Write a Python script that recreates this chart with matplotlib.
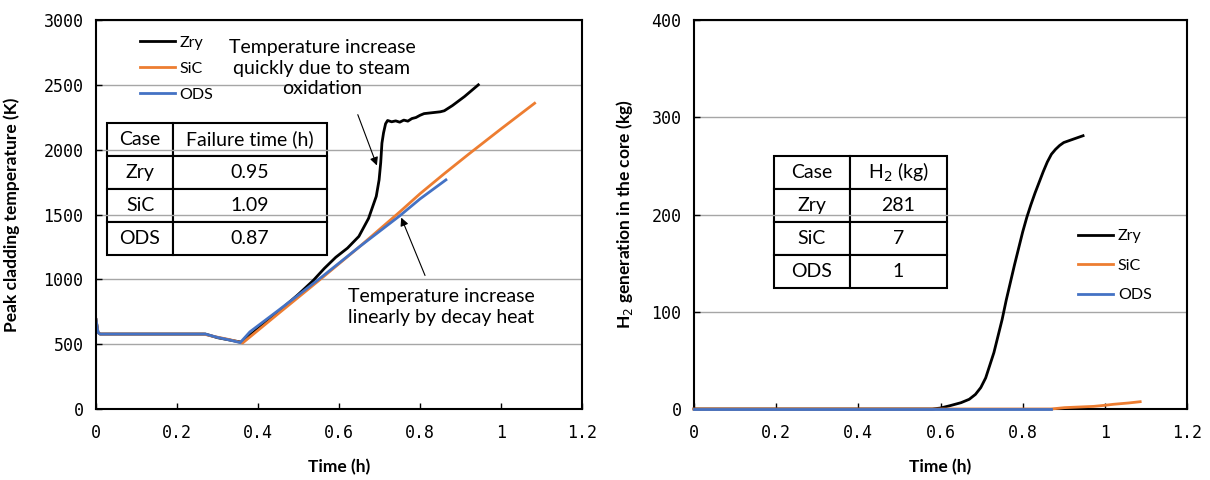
import matplotlib.pyplot as plt

plt.rcParams['font.family'] = ['Lato', 'DejaVu Sans']

cases = ["Zry", "SiC", "ODS"]
colors = ["black", "#ED7D31", "#4472C4"]

# peak cladding temperature (K) vs time (h)
zry_t = [0, 0.005, 0.01, 0.27, 0.30, 0.33, 0.36, 0.40, 0.45, 0.50, 0.536, 0.564, 0.592, 0.621, 0.649,
         0.673, 0.692, 0.699, 0.703, 0.706, 0.710, 0.715, 0.720, 0.73, 0.74, 0.75, 0.76, 0.77, 0.78,
         0.79, 0.80, 0.81, 0.83, 0.85, 0.86, 0.88, 0.91, 0.944]
zry_T = [690, 590, 578, 578, 550, 532, 515, 620, 750, 885, 990, 1085, 1170, 1241, 1331,
         1470, 1640, 1767, 1900, 2050, 2130, 2200, 2225, 2215, 2222, 2212, 2228, 2220, 2240,
         2248, 2265, 2278, 2285, 2292, 2300, 2340, 2410, 2500]
sic_t = [0, 0.005, 0.01, 0.265, 0.29, 0.33, 0.362, 0.45, 0.55, 0.65, 0.75, 0.80, 0.86, 0.92, 1.0, 1.083]
sic_T = [690, 590, 578, 578, 560, 535, 509, 735, 990, 1250, 1520, 1660, 1815, 1965, 2160, 2358]
ods_t = [0, 0.005, 0.01, 0.27, 0.30, 0.33, 0.356, 0.37, 0.38, 0.45, 0.55, 0.65, 0.75, 0.80, 0.864]
ods_T = [690, 590, 578, 578, 552, 532, 512, 560, 595, 760, 1000, 1250, 1490, 1620, 1767]

# H2 generation in the core (kg) vs time (h)
zry_h2_t = [0, 0.58, 0.60, 0.623, 0.65, 0.67, 0.685, 0.698, 0.71, 0.72, 0.73, 0.74, 0.75, 0.76, 0.77,
            0.78, 0.79, 0.80, 0.81, 0.82, 0.83, 0.84, 0.85, 0.86, 0.87, 0.88, 0.89, 0.90, 0.92, 0.947]
zry_h2 = [0, 0, 1, 3.4, 6.5, 10, 15, 22, 32, 45, 58, 75, 92, 112, 130,
          148, 165, 182, 197, 210, 222, 233, 244, 254, 262, 267, 271, 274, 277, 281]
sic_h2_t = [0, 0.869, 0.902, 0.973, 1.0, 1.02, 1.058, 1.086]
sic_h2 = [0, 0, 1.4, 2.7, 3.8, 4.8, 6.2, 7.5]
ods_h2_t = [0, 0.869]
ods_h2 = [0, 0]

fail_time = ["0.95", "1.09", "0.87"]
h2_total = ["281", "7", "1"]

fig = plt.figure(figsize=(12.1, 4.8), dpi=100)
ax1 = fig.add_axes([96 / 1210, 71 / 480, 486 / 1210, 389 / 480])
ax2 = fig.add_axes([694 / 1210, 71 / 480, 493 / 1210, 389 / 480])


def style_axes(ax, ymax, ystep, ylabel, label_x):
    ax.set_xlim(0, 1.2)
    ax.set_ylim(0, ymax)
    ax.set_xticks([0, 0.2, 0.4, 0.6, 0.8, 1.0, 1.2])
    ax.set_xticklabels(["0", "0.2", "0.4", "0.6", "0.8", "1", "1.2"])
    ax.set_yticks(range(0, ymax + 1, ystep))
    ax.tick_params(direction='in', length=4, width=1, labelsize=12, pad=9)
    ax.tick_params(axis='x', pad=11)
    for lab in ax.get_xticklabels() + ax.get_yticklabels():
        lab.set_family('DejaVu Sans Mono')
    ax.grid(axis='y', color='#A6A6A6', linewidth=1)
    ax.set_axisbelow(True)
    for s in ax.spines.values():
        s.set_linewidth(1.5)
    ax.set_xlabel("Time (h)", fontsize=12.5, fontweight='bold')
    ax.xaxis.set_label_coords(0.5, -0.128)
    ax.set_ylabel(ylabel, fontsize=12.5, fontweight='bold')
    ax.yaxis.set_label_coords(label_x, 0.5)


# left: temperature
for t, v, c, name in zip([zry_t, sic_t, ods_t], [zry_T, sic_T, ods_T], colors, cases):
    ax1.plot(t, v, color=c, linewidth=2, label=name)
style_axes(ax1, 3000, 500, "Peak cladding temperature (K)", -0.156)
ax1.legend(loc='upper left', bbox_to_anchor=(0.09, 0.96), frameon=False, fontsize=11.5,
           handlelength=2.2, handletextpad=0.3, labelspacing=0.75, borderpad=0, borderaxespad=0)

ax1.text(0.558, 2629, "Temperature increase\nquickly due to steam\noxidation", ha='center', va='center',
         fontsize=14, linespacing=1.25)
ax1.annotate("", xy=(0.696, 1858), xytext=(0.644, 2290),
             arrowprops=dict(arrowstyle='-|>', color='black', linewidth=0.8, mutation_scale=12))
ax1.text(0.622, 786, "Temperature increase\nlinearly by decay heat", ha='left', va='center',
         fontsize=14, linespacing=1.25)
ax1.annotate("", xy=(0.751, 1496), xytext=(0.815, 1010),
             arrowprops=dict(arrowstyle='-|>', color='black', linewidth=0.8, mutation_scale=12))

tab1 = ax1.table(cellText=[[c, f] for c, f in zip(cases, fail_time)],
                 colLabels=["Case", "Failure time (h)"], cellLoc='center',
                 colWidths=[66, 154], bbox=[0.0226, 0.396, 0.4527, 0.339])
tab1.auto_set_font_size(False)
tab1.set_fontsize(14)
for cell in tab1.get_celld().values():
    cell.set_linewidth(1.5)

# right: hydrogen
for t, v, c, name in zip([zry_h2_t, sic_h2_t, ods_h2_t], [zry_h2, sic_h2, ods_h2], colors, cases):
    ax2.plot(t, v, color=c, linewidth=2, label=name, clip_on=False, zorder=3)
style_axes(ax2, 400, 100, "H$_2$ generation in the core (kg)", -0.12)
ax2.legend(loc='upper left', bbox_to_anchor=(0.779, 0.462), frameon=False, fontsize=11.5,
           handlelength=2.2, handletextpad=0.3, labelspacing=0.95, borderpad=0, borderaxespad=0)

tab2 = ax2.table(cellText=[[c, h] for c, h in zip(cases, h2_total)],
                 colLabels=["Case", "H$_2$ (kg)"], cellLoc='center',
                 colWidths=[76, 97], bbox=[0.162, 0.311, 0.351, 0.339])
tab2.auto_set_font_size(False)
tab2.set_fontsize(14)
for cell in tab2.get_celld().values():
    cell.set_linewidth(1.5)

fig.savefig("out.png", dpi=100)
